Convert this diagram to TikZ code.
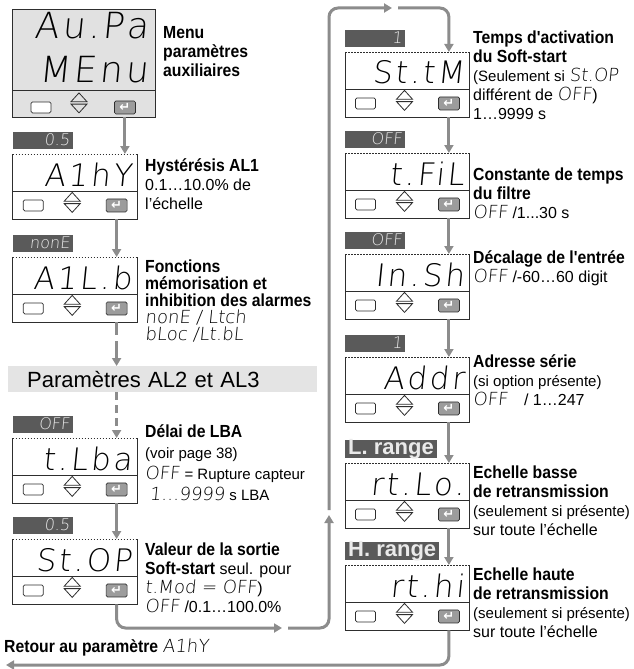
\documentclass[tikz,border=0pt]{standalone}
\usepackage{fontspec}
\setmainfont{Liberation Sans}
\newfontfamily\headfont{Liberation Sans}[FakeStretch=0.9]
\IfFontExistsTF{DejaVu Sans ExtraLight}
    {\newfontfamily\segfont{DejaVu Sans ExtraLight}[FakeSlant=0.1]
     \newfontfamily\segwide{DejaVu Sans ExtraLight}[FakeSlant=0.1, LetterSpace=9]}
    {\newfontfamily\segfont{DejaVu Sans Mono}[FakeSlant=0.1]
     \newfontfamily\segwide{DejaVu Sans Mono}[FakeSlant=0.1, LetterSpace=9]}
\newfontfamily\keyfont{DejaVu Sans}
\usetikzlibrary{arrows.meta,positioning,calc}
\definecolor{Flow}{HTML}{8C8C8C}
\definecolor{Frame}{HTML}{2E2E2E}
\definecolor{Screen}{HTML}{E1E1E1}
\definecolor{Band}{HTML}{E4E4E4}
\definecolor{Tag}{HTML}{5A5A5A}
\definecolor{TagText}{HTML}{EAEAEA}
\definecolor{Key}{HTML}{9C9C9C}
\newcommand{\hd}[1]{{\headfont\bfseries\fontsize{17.5}{19}\selectfont #1}}
\newcommand{\sg}[1]{{\segfont\fontsize{18}{19}\selectfont #1}}
\newcommand{\sm}[1]{{\fontsize{15}{19}\selectfont #1}}

\begin{document}
\begin{tikzpicture}[
    x=1pt, y=-1pt,
    font=\fontsize{16}{19}\selectfont,
    unit/.style={
        minimum width=124pt,
        minimum height=65pt,
        inner sep=0pt,
        anchor=north west,
        fill=white
    },
    frame/.style={
        draw=Frame,
        line width=0.8pt
    },
    escKey/.style={
        draw=Frame,
        line width=0.7pt,
        fill=white,
        rounded corners=1.5pt,
        minimum width=20pt,
        minimum height=11pt,
        inner sep=0pt
    },
    okKey/.style={
        draw=Frame,
        line width=0.7pt,
        fill=Key,
        rounded corners=1.5pt,
        minimum width=21pt,
        minimum height=13pt,
        inner sep=0pt,
        text=white,
        font=\keyfont\bfseries\fontsize{13}{13}\selectfont
    },
    segBig/.style={
        font=\segwide\fontsize{31}{31}\selectfont,
        inner sep=0pt,
        anchor=base east
    },
    valTag/.style={
        fill=Tag,
        text=TagText,
        minimum height=17pt,
        text width=54pt,
        text height=11pt,
        text depth=1pt,
        align=right,
        inner xsep=3pt,
        inner ysep=0pt,
        anchor=south west,
        font=\segfont\fontsize{16}{16}\selectfont
    },
    rangeTag/.style={
        fill=Tag,
        text=TagText,
        minimum height=18pt,
        text height=15pt,
        text depth=3pt,
        inner xsep=3pt,
        inner ysep=0pt,
        anchor=south west,
        font=\bfseries\fontsize{22}{22}\selectfont
    },
    info/.style={
        anchor=north west,
        inner sep=0pt,
        align=left
    },
    flow/.style={
        draw=Flow,
        line width=3pt,
        -{Triangle[length=8pt,width=9pt]}
    },
    track/.style={
        draw=Flow,
        line width=3pt,
        rounded corners=9pt
    }
]

\useasboundingbox (0,0) rectangle (633,669);

% Menu display
\node[unit, fill=Screen, minimum width=142.3pt, minimum height=108pt] (menu) at (12.7,9) {};
\draw[frame] (menu.north west) rectangle (menu.south east);
\draw[frame] ($(menu.south west)+(0,-27)$) -- ($(menu.south east)+(0,-27)$);
\node[segBig, font=\segwide\fontsize{36}{36}\selectfont] at ($(menu.north east)+(-7,29)$) {Au.Pa};
\node[segBig, font=\segwide\fontsize{36}{36}\selectfont] at ($(menu.north east)+(-7,73)$) {MEnu};
\node[escKey] (menu-esc) at ($(menu.south west)+(28.3,-10)$) {};
\node[okKey] (menu-ok) at ($(menu.south east)+(-30.5,-10)$) {↵};
\coordinate (menu-ud) at ($(menu.south west)+(66.3,-14.5)$);
\draw[frame] ($(menu-ud)+(-8,-1.2)$) -- ($(menu-ud)+(0,-10)$) -- ($(menu-ud)+(8,-1.2)$) -- cycle
             ($(menu-ud)+(-8,1.2)$) -- ($(menu-ud)+(0,10)$) -- ($(menu-ud)+(8,1.2)$) -- cycle;

% Parameter displays
\foreach \nm/\x/\y/\seg in {hys/12.7/154/A1hY, alb/12.7/257/A1L.b, lba/12.7/438/t.Lba, stop/12.7/539/St.OP,
    stm/345/52/St.tM, fil/345/153/t.FiL, insh/345/254/In.Sh, addr/345/357/Addr, rtlo/345/463/rt.Lo., rthi/345/565/rt.hi} {
    \node[unit] (\nm) at (\x,\y) {};
    \draw[frame] (\nm.north west) -- (\nm.south west) -- (\nm.south east) -- (\nm.north east);
    \draw[frame, line width=0.7pt, dash pattern=on 1.6pt off 1.4pt] (\nm.north west) -- (\nm.north east);
    \draw[frame] ($(\nm.north west)+(0,37)$) -- ($(\nm.north east)+(0,37)$);
    \node[segBig] at ($(\nm.north east)+(-5,32)$) {\seg};
    \node[escKey] (\nm-esc) at ($(\nm.south west)+(20.5,-14)$) {};
    \node[okKey] (\nm-ok) at ($(\nm.south east)+(-20.5,-14)$) {↵};
    \coordinate (\nm-ud) at ($(\nm.south west)+(59.5,-17)$);
    \draw[frame] ($(\nm-ud)+(-8,-1.2)$) -- ($(\nm-ud)+(0,-10)$) -- ($(\nm-ud)+(8,-1.2)$) -- cycle
                 ($(\nm-ud)+(-8,1.2)$) -- ($(\nm-ud)+(0,10)$) -- ($(\nm-ud)+(8,1.2)$) -- cycle;
}

% Value tags
\foreach \nm/\val in {hys/0.5, alb/nonE, lba/OFF, stop/0.5, stm/1, fil/OFF, insh/OFF, addr/1}
    \node[valTag] (\nm-tag) at ($(\nm.north west)+(0,-5)$) {\val};
\node[rangeTag] (rtlo-tag) at ($(rtlo.north west)+(0,-5)$) {L. range};
\node[rangeTag] (rthi-tag) at ($(rthi.north west)+(0,-5)$) {H. range};

% AL2 / AL3 band
\node[fill=Band, minimum width=309pt, minimum height=26pt, text width=271pt, inner xsep=19pt, inner ysep=0pt,
    align=left, anchor=north west, font=\fontsize{22}{22}\selectfont] (band) at (8,366) {Paramètres AL2 et AL3};

% Left column flow
\draw[flow] (menu-ok |- menu.south) -- (menu-ok |- hys.north);
\draw[flow] (hys-ok |- hys.south) -- (hys-ok |- alb.north);
\draw[flow, dash pattern=on 13pt off 6pt on 40pt] (alb-ok |- alb.south) -- (alb-ok |- band.north);
\draw[flow, dash pattern=on 8pt off 5pt] (alb-ok |- band.south) -- (lba-ok |- lba.north);
\draw[flow] (lba-ok |- lba.south) -- (lba-ok |- stop.north);

% Loop to the right column
\coordinate (loopA) at (282,628);
\coordinate (loopB) at (329,515);
\coordinate (loopC) at (392,8);
\draw[track, flow] (stop-ok |- stop.south) |- (loopA);
\draw[track, flow] ($(loopA)+(6,0)$) -| (loopB);
\draw[track, flow] ($(loopB)+(0,-5)$) |- (loopC);
\draw[track, flow] ($(loopC)+(6,0)$) -| (stm-ok |- stm.north);

% Right column flow
\foreach \a/\b in {stm/fil, fil/insh, insh/addr, addr/rtlo, rtlo/rthi}
    \draw[flow] (\a-ok |- \a.south) -- (\a-ok |- \b.north);

% Back to the first parameter
\coordinate (back) at (6,665);
\draw[track, flow] (rthi-ok |- rthi.south) |- (back);

% Descriptions, left column
\node[info] (menu-txt) at (163,26) {\hd{Menu}\\\hd{paramètres}\\\hd{auxiliaires}};
\node[info] (hys-txt) at (145,158) {\hd{Hystérésis AL1}\\0.1…10.0\% de\\l'échelle};
\node[info, font=\fontsize{16}{17}\selectfont] (alb-txt) at (145,260)
{\hd{Fonctions}\\\hd{mémorisation et}\\\hd{inhibition des alarmes}\\\sg{nonE / Ltch}\\\sg{bLoc /Lt.bL}};
\node[info, font=\fontsize{16}{21}\selectfont] (lba-txt) at (145,424)
{\hd{Délai de LBA}\\\sm{(voir page 38)}\\\sg{OFF} \sm{= Rupture capteur}\\\ \sg{1…9999} \sm{s LBA}};
\node[info] (stop-txt) at (145,542.5)
{\hd{Valeur de la sortie}\\\hd{Soft-start} seul. pour\\\sg{t.Mod = OFF})\\\sg{OFF} /0.1…100.0\%};

% Descriptions, right column
\node[info] (stm-txt) at (473,30.5)
{\hd{Temps d'activation}\\\hd{du Soft-start}\\\sm{(Seulement si} \sg{St.OP}\\différent de \sg{OFF})\\1…9999 s};
\node[info] (fil-txt) at (473,167.5) {\hd{Constante de temps}\\\hd{du filtre}\\\sg{OFF} /1...30 s};
\node[info] (insh-txt) at (473,250) {\hd{Décalage de l'entrée}\\\sg{OFF} /-60…60 digit};
\node[info] (addr-txt) at (473,354) {\hd{Adresse série}\\\sm{(si option présente)}\\\sg{OFF}\quad / 1…247};
\node[info] (rtlo-txt) at (473,465.5)
{\hd{Echelle basse}\\\hd{de retransmission}\\\sm{(seulement si présente)}\\sur toute l'échelle};
\node[info] (rthi-txt) at (473,567.5)
{\hd{Echelle haute}\\\hd{de retransmission}\\\sm{(seulement si présente)}\\sur toute l'échelle};

\node[anchor=base west, inner sep=0pt] (back-txt) at (4,652) {\hd{Retour au paramètre} \sg{A1hY}};

\end{tikzpicture}
\end{document}
